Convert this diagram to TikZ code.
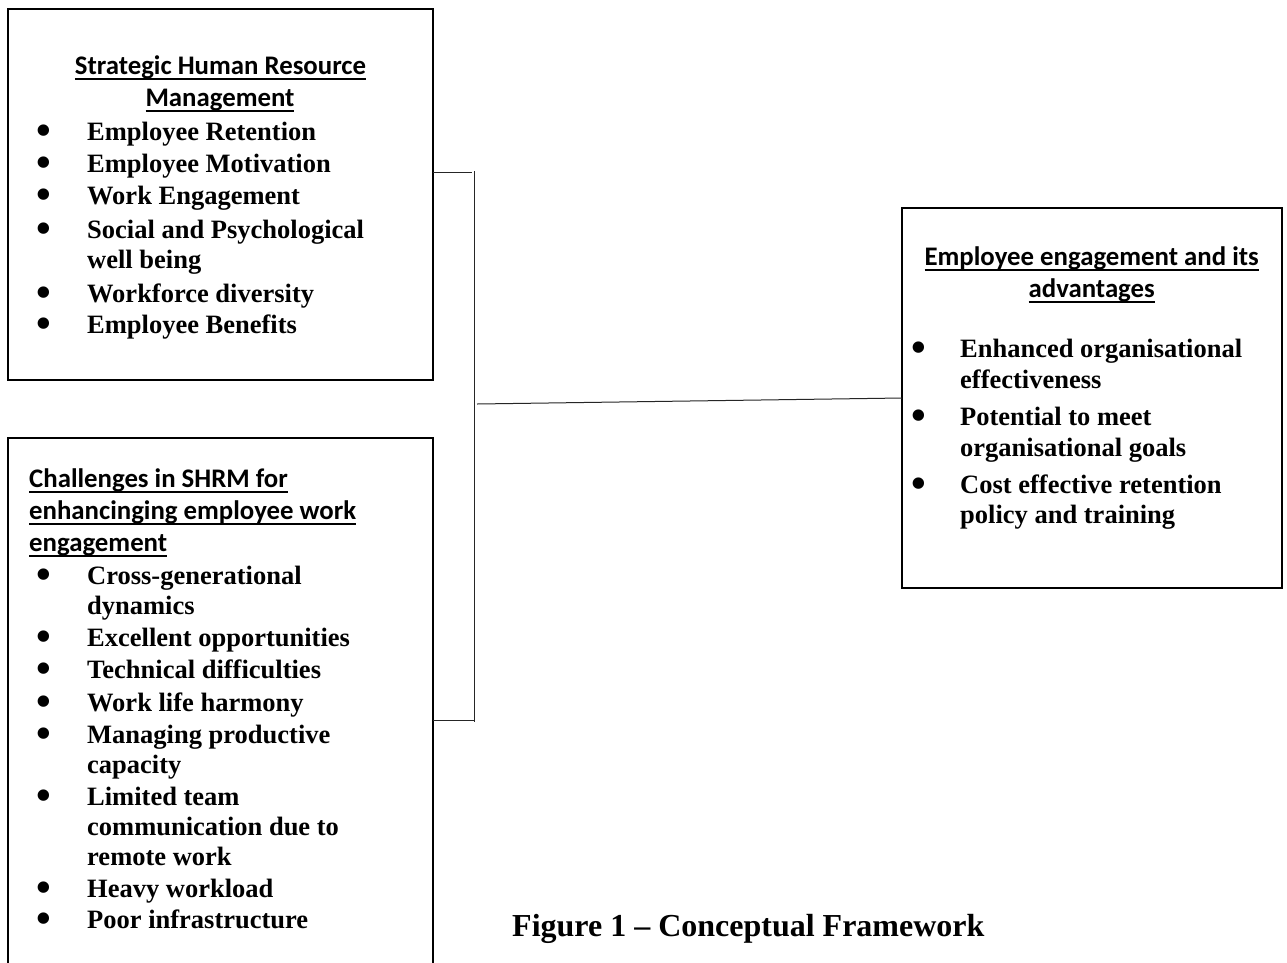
\documentclass[tikz,border=0pt]{standalone}
\usepackage{fontspec}
\setmainfont{Liberation Serif}
\newfontfamily\headfont{Carlito}
\newcommand\hul[1]{\leavevmode\setbox0\hbox{#1}\rlap{\rule[-5.5pt]{\wd0}{1.8pt}}\box0}
\newcommand\bulat[1]{\llap{\makebox[0pt][c]{\raisebox{-4pt}{\fontsize{42}{0}\selectfont\textbullet}}\hspace{#1}}}
\tikzset{
  box/.style={draw, line width=2pt, rectangle, inner sep=0pt, outer sep=0pt, anchor=north west},
  conn/.style={line width=1pt, draw=black!85},
  hd/.style={inner sep=0pt, font=\headfont\bfseries\fontsize{26.8}{32}\selectfont},
  itm/.style={inner sep=0pt, anchor=base west, align=left, font=\bfseries\fontsize{26.5}{30}\selectfont},
}
\begin{document}
\begin{tikzpicture}[x=1pt, y=-1pt]
\useasboundingbox (0,0) rectangle (1287,962);
\clip (0,0) rectangle (1287,962);
\fill[white] (0,0) rectangle (1287,962);
% boxes
\node[box, minimum width=425pt, minimum height=371pt] (b1) at (8,9) {};
\node[box, minimum width=425pt, minimum height=600pt] (b2) at (8,438) {};
\node[box, minimum width=380pt, minimum height=380pt] (b3) at (902,208) {};
% box 1 (multi-line items are placed by the baseline of their last line)
\node[hd, anchor=base] (h1a) at (220.5,74) {\hul{Strategic Human Resource}};
\node[hd, anchor=base] (h1b) at (220,106) {\hul{Management}};
\node[itm] (i11) at (87,140) {\bulat{43pt}Employee Retention};
\node[itm] (i12) at (87,172) {\bulat{43pt}Employee Motivation};
\node[itm] (i13) at (87,204) {\bulat{43pt}Work Engagement};
\node[itm] (i14) at (87,268) {\bulat{43pt}Social and Psychological\\well being};
\node[itm] (i15) at (87,302) {\bulat{43pt}Workforce diversity};
\node[itm] (i16) at (87,333) {\bulat{43pt}Employee Benefits};
% box 2
\node[hd, anchor=base west] (h2a) at (29,487) {\hul{Challenges in SHRM for}};
\node[hd, anchor=base west] (h2b) at (29,519) {\hul{enhancinging employee work}};
\node[hd, anchor=base west] (h2c) at (29,551) {\hul{engagement}};
\node[itm] (i21) at (87,614) {\bulat{43pt}Cross-generational\\dynamics};
\node[itm] (i22) at (87,646) {\bulat{43pt}Excellent opportunities};
\node[itm] (i23) at (87,678) {\bulat{43pt}Technical difficulties};
\node[itm] (i24) at (87,711) {\bulat{43pt}Work life harmony};
\node[itm] (i25) at (87,773) {\bulat{43pt}Managing productive\\capacity};
\node[itm] (i26) at (87,865) {\bulat{43pt}Limited team\\communication due to\\remote work};
\node[itm] (i27) at (87,897) {\bulat{43pt}Heavy workload};
\node[itm] (i28) at (87,928) {\bulat{43pt}Poor infrastructure};
% box 3
\node[hd, anchor=base] (h3a) at (1091.7,265) {\hul{Employee engagement and its}};
\node[hd, anchor=base] (h3b) at (1091.7,297) {\hul{advantages}};
\node[itm, font=\bfseries\fontsize{26.5}{31.5}\selectfont] (i31) at (960,388.5) {\bulat{41pt}Enhanced organisational\\effectiveness};
\node[itm, font=\bfseries\fontsize{26.5}{31.5}\selectfont] (i32) at (960,456.5) {\bulat{41pt}Potential to meet\\organisational goals};
\node[itm, font=\bfseries\fontsize{26.5}{30.5}\selectfont] (i33) at (960,523.5) {\bulat{41pt}Cost effective retention\\policy and training};
% caption
\node[inner sep=0pt, anchor=base west, font=\bfseries\fontsize{32}{38}\selectfont] (cap) at (512,936) {Figure 1 – Conceptual Framework};
% connectors
\coordinate (jt) at (472,172);
\coordinate (vt) at (474,171);
\coordinate (vb) at (474,722);
\coordinate (jb) at (474,720);
\coordinate (jm) at (477,404);
\draw[conn] (b1.east |- jt) -- (jt);
\draw[conn] (vt) -- (vb);
\draw[conn] (b2.east |- jb) -- (jb);
\draw[conn] (jm) -- (b3.west);
\end{tikzpicture}
\end{document}
